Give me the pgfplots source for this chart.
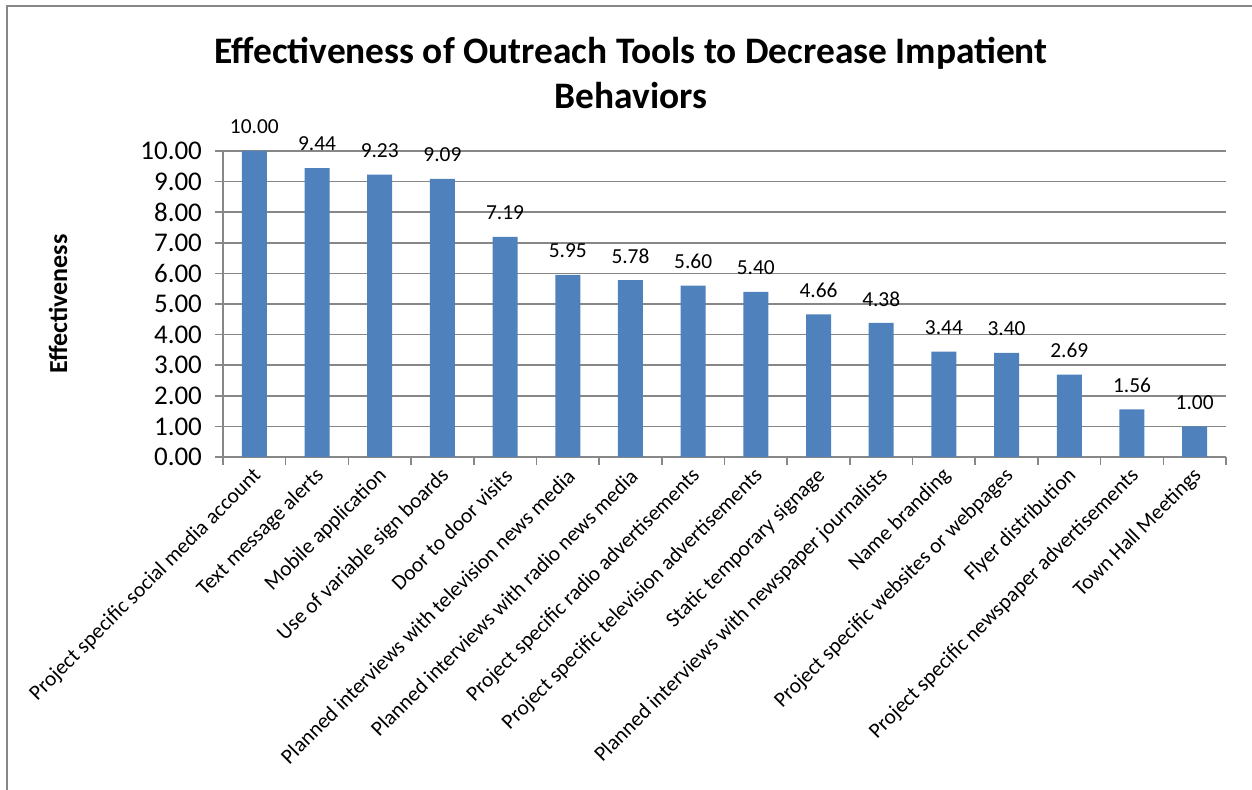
\documentclass[border=0pt]{standalone}
\usepackage{fontspec}
\setmainfont{Carlito}
\usepackage{pgfplots}
\pgfplotsset{compat=1.18}
\definecolor{barblue}{HTML}{4F81BD}
\definecolor{gridgray}{HTML}{878787}
\begin{document}
\begin{tikzpicture}
\useasboundingbox (0pt,0pt) rectangle (626pt,395pt);
\draw[gridgray, line width=1pt] (3.5pt,-5pt) -- (3.5pt,392pt) -- (630pt,392pt);
\node[font=\bfseries\fontsize{18.7}{22.5}\selectfont, align=center] at (315.5pt,358.5pt)
  {Effectiveness of Outreach Tools to Decrease Impatient\\Behaviors};
\node[rotate=90, font=\bfseries\fontsize{13}{15}\selectfont] at (29pt,243pt) {Effectiveness};
\begin{axis}[
  at={(111.5pt,166.5pt)}, anchor=south west,
  scale only axis, width=501.5pt, height=153pt,
  xmin=-0.5, xmax=15.5, ymin=0, ymax=10,
  axis x line*=bottom, axis y line*=left,
  axis line style={gridgray, line width=0.8pt},
  ytick={0,1,...,10},
  ymajorgrids, grid style={gridgray, line width=0.8pt},
  tick align=outside, major tick length=4pt,
  tick style={gridgray, line width=0.8pt},
  every major x tick/.append style={draw=none},
  minor xtick={-0.5,0.5,...,15.5},
  minor tick length=4pt,
  every minor x tick/.append style={gridgray, line width=0.8pt},
  /pgf/number format/assume math mode=true,
  yticklabel style={font=\fontsize{13.5}{15}\selectfont, xshift=-3pt, /pgf/number format/fixed, /pgf/number format/precision=2, /pgf/number format/fixed zerofill},
  xtick={0,1,...,15},
  xticklabels={Project specific social media account, Text message alerts, Mobile application, Use of variable sign boards, Door to door visits, Planned interviews with television news media, Planned interviews with radio news media, Project specific radio advertisements, Project specific television advertisements, Static temporary signage, Planned interviews with newspaper journalists, Name branding, Project specific websites or webpages, Flyer distribution, Project specific newspaper advertisements, Town Hall Meetings},
  xticklabel style={rotate=45, anchor=east, font=\fontsize{10.7}{12}\selectfont, yshift=-4pt, xshift=2pt},
  ybar, bar width=12.5pt,
  nodes near coords,
  nodes near coords style={font=\fontsize{10.7}{12}\selectfont, anchor=center, yshift=12pt, /pgf/number format/fixed, /pgf/number format/precision=2, /pgf/number format/fixed zerofill},
]
\addplot[fill=barblue, draw=none] coordinates {
  (0,10.00) (1,9.44) (2,9.23) (3,9.09) (4,7.19) (5,5.95) (6,5.78) (7,5.60)
  (8,5.40) (9,4.66) (10,4.38) (11,3.44) (12,3.40) (13,2.69) (14,1.56) (15,1.00)};
\end{axis}
\end{tikzpicture}
\end{document}
